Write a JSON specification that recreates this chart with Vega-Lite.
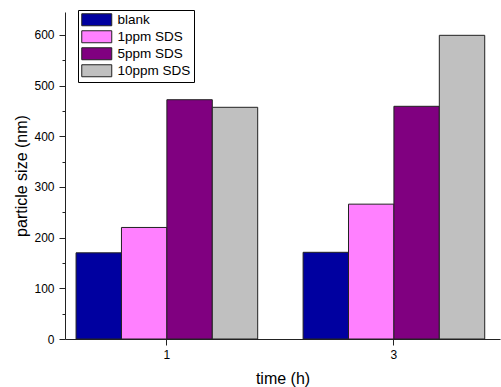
{
  "$schema": "https://vega.github.io/schema/vega-lite/v6.json",
  "width": 435,
  "height": 327,
  "autosize": "none",
  "padding": {"left": 65, "top": 12, "right": 1, "bottom": 48},
  "background": "white",
  "config": {
    "view": {"stroke": null},
    "font": "Liberation Sans",
    "axis": {"labelFont": "Liberation Sans", "titleFont": "Liberation Sans", "labelColor": "#000", "titleColor": "#000", "titleFontWeight": "normal", "grid": false, "domainColor": "#222", "tickColor": "#222"},
    "legend": {"labelFont": "Liberation Sans", "labelColor": "#000"}
  },
  "data": {"values": [
    {"time": "1", "series": "blank", "size": 170},
    {"time": "1", "series": "1ppm SDS", "size": 220},
    {"time": "1", "series": "5ppm SDS", "size": 472},
    {"time": "1", "series": "10ppm SDS", "size": 457},
    {"time": "3", "series": "blank", "size": 171},
    {"time": "3", "series": "1ppm SDS", "size": 266},
    {"time": "3", "series": "5ppm SDS", "size": 459},
    {"time": "3", "series": "10ppm SDS", "size": 599}
  ]},
  "encoding": {
    "x": {"field": "time", "type": "nominal", "sort": ["1", "3"],
      "scale": {"paddingInner": 0.2, "paddingOuter": 0.058, "align": 0.42},
      "axis": {"title": "time (h)", "labelAngle": 0, "labelFontSize": 12, "titleFontSize": 16, "tickSize": 6, "labelPadding": 4, "titlePadding": 10, "domainWidth": 1}},
    "xOffset": {"field": "series", "type": "nominal", "sort": ["blank", "1ppm SDS", "5ppm SDS", "10ppm SDS"], "scale": {"paddingInner": 0, "paddingOuter": 0}}
  },
  "layer": [
    {
      "mark": {"type": "bar", "stroke": "#222", "strokeWidth": 1},
      "encoding": {
        "y": {"field": "size", "type": "quantitative", "scale": {"domain": [0, 645], "nice": false},
          "axis": {"title": "particle size (nm)", "values": [0, 100, 200, 300, 400, 500, 600], "labelFontSize": 12, "titleFontSize": 16, "tickSize": 6, "labelPadding": 5, "titlePadding": 4}},
        "color": {"field": "series", "type": "nominal", "sort": ["blank", "1ppm SDS", "5ppm SDS", "10ppm SDS"],
          "scale": {"domain": ["blank", "1ppm SDS", "5ppm SDS", "10ppm SDS"], "range": ["#0000A0", "#FF80FF", "#800080", "#C0C0C0"]},
          "legend": {"title": null, "orient": "none", "legendX": 13, "legendY": -2, "fillColor": "white", "strokeColor": "#000", "padding": 3, "symbolType": "M-1,-1H4V1H-1Z", "symbolSize": 144, "symbolStrokeColor": "#222", "symbolStrokeWidth": 1, "symbolOpacity": 1, "labelFontSize": 13.5, "labelOffset": 23, "rowPadding": 0}}
      }
    },
    {
      "mark": {"type": "bar", "opacity": 0},
      "encoding": {
        "y": {"field": "size", "type": "quantitative",
          "axis": {"orient": "left", "title": null, "values": [50, 150, 250, 350, 450, 550], "labels": false, "domain": false, "tickSize": 3}}
      }
    }
  ],
  "resolve": {"axis": {"y": "independent"}}
}
